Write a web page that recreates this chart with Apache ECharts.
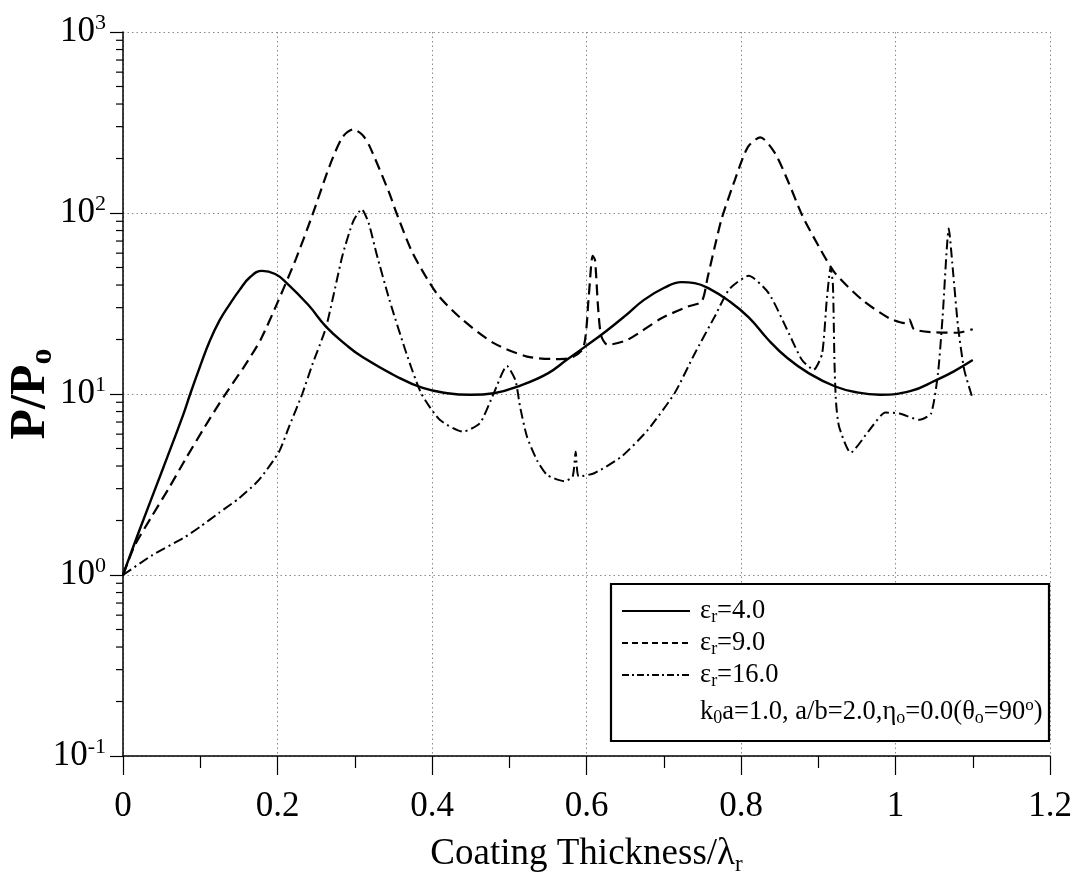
<!DOCTYPE html>
<html>
<head>
<meta charset="utf-8">
<script src="https://cdn.jsdelivr.net/npm/echarts@6/dist/echarts.min.js"></script>
<style>
html,body{margin:0;padding:0;background:#fff;}
#chart{width:1071px;height:890px;}
</style>
</head>
<body>
<div id="chart"></div>
<script>
// ---- data ----
const xTickLabels = ['0', '0.2', '0.4', '0.6', '0.8', '1', '1.2'];
const yMinorTicks = [0.2,0.3,0.4,0.5,0.6,0.7,0.8,0.9, 2,3,4,5,6,7,8,9, 20,30,40,50,60,70,80,90, 200,300,400,500,600,700,800,900];

const legendLabels = ['4.0', '9.0', '16.0'];

// eps_r = 4.0 (solid)
const eps4 = [[0,1],[0.022,1.8],[0.052,3.9],[0.078,7.7],[0.087,10],[0.1,14.3],[0.112,19.5],[0.125,25.5],[0.1385,31.5],[0.151,37.6],[0.164,44],[0.18,47.9],[0.197,46],[0.212,41],[0.24,31],[0.263,23.5],[0.29,18.5],[0.31,16],[0.354,12.5],[0.388,10.8],[0.42,10.1],[0.45,9.9],[0.48,10.1],[0.516,11.2],[0.55,13],[0.574,15.4],[0.6,18.5],[0.624,22],[0.65,27],[0.674,33],[0.70,38.5],[0.723,41.5],[0.74,41],[0.76,38],[0.783,33],[0.81,26.5],[0.835,20],[0.86,15.8],[0.888,13],[0.922,11],[0.95,10.2],[0.98,9.9],[1.02,10.4],[1.052,11.9],[1.075,13.3],[1.1,15.4]];

// eps_r = 9.0 (dashed)
const eps9 = [[0,1],[0.015,1.45],[0.037,2.1],[0.059,3.0],[0.08,4.3],[0.106,6.6],[0.132,9.9],[0.156,14],[0.178,19.9],[0.2,32],[0.224,56],[0.245,97],[0.267,180],[0.284,262],[0.298,290],[0.31,270],[0.319,235],[0.345,128],[0.354,100],[0.375,60],[0.406,36],[0.436,26.5],[0.48,19.1],[0.523,16.1],[0.56,15.6],[0.579,15.8],[0.596,18],[0.603,35],[0.608,58],[0.611,55],[0.615,30],[0.619,21],[0.627,18.7],[0.653,19.9],[0.697,26.2],[0.731,30.4],[0.749,32.4],[0.757,44.5],[0.766,65],[0.775,93],[0.792,152],[0.809,232],[0.825,262],[0.844,214],[0.862,146],[0.879,97.5],[0.901,65],[0.922,46.4],[0.957,33.1],[0.992,26.2],[1.013,24.6],[1.018,25.8],[1.024,22.8],[1.052,21.9],[1.08,21.8],[1.1,22.8]];

// eps_r = 16.0 (dash-dot)
const eps16 = [[0,1],[0.037,1.28],[0.08,1.62],[0.1,1.85],[0.124,2.2],[0.15,2.65],[0.176,3.35],[0.202,4.8],[0.215,6.6],[0.232,10],[0.245,14.5],[0.263,23.5],[0.284,58],[0.298,90],[0.309,105],[0.318,88],[0.328,60],[0.345,33],[0.367,16.7],[0.386,10.1],[0.41,7.2],[0.44,6.2],[0.462,6.9],[0.48,10.1],[0.497,14.3],[0.508,11.9],[0.514,8.5],[0.523,5.8],[0.536,4.3],[0.549,3.57],[0.571,3.3],[0.582,3.5],[0.586,4.8],[0.59,3.5],[0.61,3.65],[0.645,4.5],[0.679,6.3],[0.714,10.1],[0.74,16.7],[0.766,26.8],[0.785,38],[0.81,45],[0.836,36],[0.862,21.6],[0.879,15.4],[0.894,13.6],[0.905,16.7],[0.911,33],[0.916,50],[0.919,40],[0.921,15],[0.923,9],[0.927,6.6],[0.942,4.74],[0.966,6.3],[0.987,7.9],[1.005,7.8],[1.031,7.2],[1.046,7.8],[1.055,13],[1.061,26.8],[1.069,82],[1.074,50],[1.081,23.5],[1.089,13.6],[1.099,9.7]];

// ---- chart ----
const FONT = '"Liberation Serif", "DejaVu Serif", serif';
const chart = echarts.init(document.getElementById('chart'), null, {renderer: 'canvas'});

const gridLine = {show: true, lineStyle: {color: '#8a8a8a', type: [1.5, 3], width: 1}};

const legendRich = {
  t: {fontFamily: FONT, fontSize: 26.5, fill: '#000', lineHeight: 30},
  sub: {fontFamily: FONT, fontSize: 18, fill: '#000', verticalAlign: 'bottom', lineHeight: 20},
  sup: {fontFamily: FONT, fontSize: 17, fill: '#000', verticalAlign: 'top', lineHeight: 18}
};
function legendText(txt, y) {
  return {
    type: 'text', z: 101, x: 700, y: y,
    style: {text: txt, rich: legendRich, verticalAlign: 'middle', align: 'left'}
  };
}

const option = {
  backgroundColor: '#ffffff',
  animation: false,
  grid: {left: 123, top: 32, width: 927, height: 724, containLabel: false, outerBoundsMode: 'none'},
  xAxis: {
    type: 'value', min: 0, max: 1.2, interval: 0.2,
    name: '{m|Coating Thickness/λ}{sub|r}',
    nameLocation: 'middle', nameGap: 76,
    nameTextStyle: {
      rich: {
        m: {fontFamily: FONT, fontSize: 37, color: '#000', lineHeight: 44},
        sub: {fontFamily: FONT, fontSize: 23, color: '#000', verticalAlign: 'bottom', lineHeight: 30}
      }
    },
    axisLine: {show: true, onZero: false, lineStyle: {color: '#000', width: 1.5}},
    axisTick: {show: true, inside: false, length: 19, lineStyle: {color: '#000', width: 1.2}},
    minorTick: {show: true, splitNumber: 2, length: 12, lineStyle: {color: '#000', width: 1.2}},
    axisLabel: {
      margin: 33, fontFamily: FONT, fontSize: 35, color: '#000',
      formatter: function (v) {
        const i = Math.round(v / 0.2);
        return xTickLabels[i] !== undefined ? xTickLabels[i] : '';
      }
    },
    splitLine: gridLine
  },
  yAxis: {
    type: 'log', logBase: 10, min: 0.1, max: 1000, splitNumber: 4,
    name: '{m|P/P}{sub|o}',
    nameLocation: 'middle', nameGap: 64, nameRotate: 90, nameMoveOverlap: false,
    nameTextStyle: {
      rich: {
        m: {fontFamily: FONT, fontSize: 50, fontWeight: 'bold', color: '#000', lineHeight: 56},
        sub: {fontFamily: FONT, fontSize: 32, fontWeight: 'bold', color: '#000', verticalAlign: 'bottom', lineHeight: 42}
      }
    },
    axisLine: {show: true, onZero: false, lineStyle: {color: '#000', width: 1.5}},
    axisTick: {show: true, inside: false, length: 13, lineStyle: {color: '#000', width: 1.2}},
    minorTick: {show: false},
    axisLabel: {
      margin: 17, color: '#000',
      formatter: function (v) {
        const e = Math.round(Math.log10(v));
        return '{b|10}{s|' + e + '}';
      },
      rich: {
        b: {fontFamily: FONT, fontSize: 35, color: '#000', lineHeight: 40},
        s: {fontFamily: FONT, fontSize: 22, color: '#000', verticalAlign: 'top'}
      }
    },
    splitLine: gridLine
  },
  series: [
    {
      name: 'eps4', type: 'line', data: eps4, showSymbol: false, symbol: 'none', smooth: 0.45,
      lineStyle: {color: '#000', width: 2.4, type: 'solid'}, z: 5
    },
    {
      name: 'eps9', type: 'line', data: eps9, showSymbol: false, symbol: 'none', smooth: 0.25,
      lineStyle: {color: '#000', width: 2.2, type: [11, 6]}, z: 5
    },
    {
      name: 'eps16', type: 'line', data: eps16, showSymbol: false, symbol: 'none', smooth: 0.2,
      lineStyle: {color: '#000', width: 2, type: [10, 4, 2, 4]}, z: 5
    },
    {
      name: 'yminor', type: 'custom', clip: false, silent: true, z: 3,
      data: yMinorTicks.map(v => [0, v]),
      renderItem: function (params, api) {
        const p = api.coord([0, api.value(1)]);
        return {
          type: 'line',
          shape: {x1: p[0] - 7, y1: p[1], x2: p[0], y2: p[1]},
          style: {stroke: '#000', lineWidth: 1.2}
        };
      }
    }
  ],
  graphic: [
    {
      type: 'rect', z: 100,
      shape: {x: 611, y: 584, width: 438, height: 157},
      style: {fill: '#fff', stroke: '#000', lineWidth: 2.2}
    },
    {type: 'line', z: 101, shape: {x1: 622, y1: 611, x2: 690, y2: 611}, style: {stroke: '#000', lineWidth: 1.8}},
    {type: 'line', z: 101, shape: {x1: 622, y1: 643, x2: 690, y2: 643}, style: {stroke: '#000', lineWidth: 1.8, lineDash: [6, 4]}},
    {type: 'line', z: 101, shape: {x1: 622, y1: 675, x2: 690, y2: 675}, style: {stroke: '#000', lineWidth: 1.8, lineDash: [7, 3, 2, 3]}},
    legendText('{t|ε}{sub|r}{t|=' + legendLabels[0] + '}', 611),
    legendText('{t|ε}{sub|r}{t|=' + legendLabels[1] + '}', 643),
    legendText('{t|ε}{sub|r}{t|=' + legendLabels[2] + '}', 675),
    legendText('{t|k}{sub|0}{t|a=1.0, a/b=2.0,η}{sub|o}{t|=0.0(θ}{sub|o}{t|=90}{sup|o}{t|)}', 712)
  ]
};
chart.setOption(option);
</script>
</body>
</html>
